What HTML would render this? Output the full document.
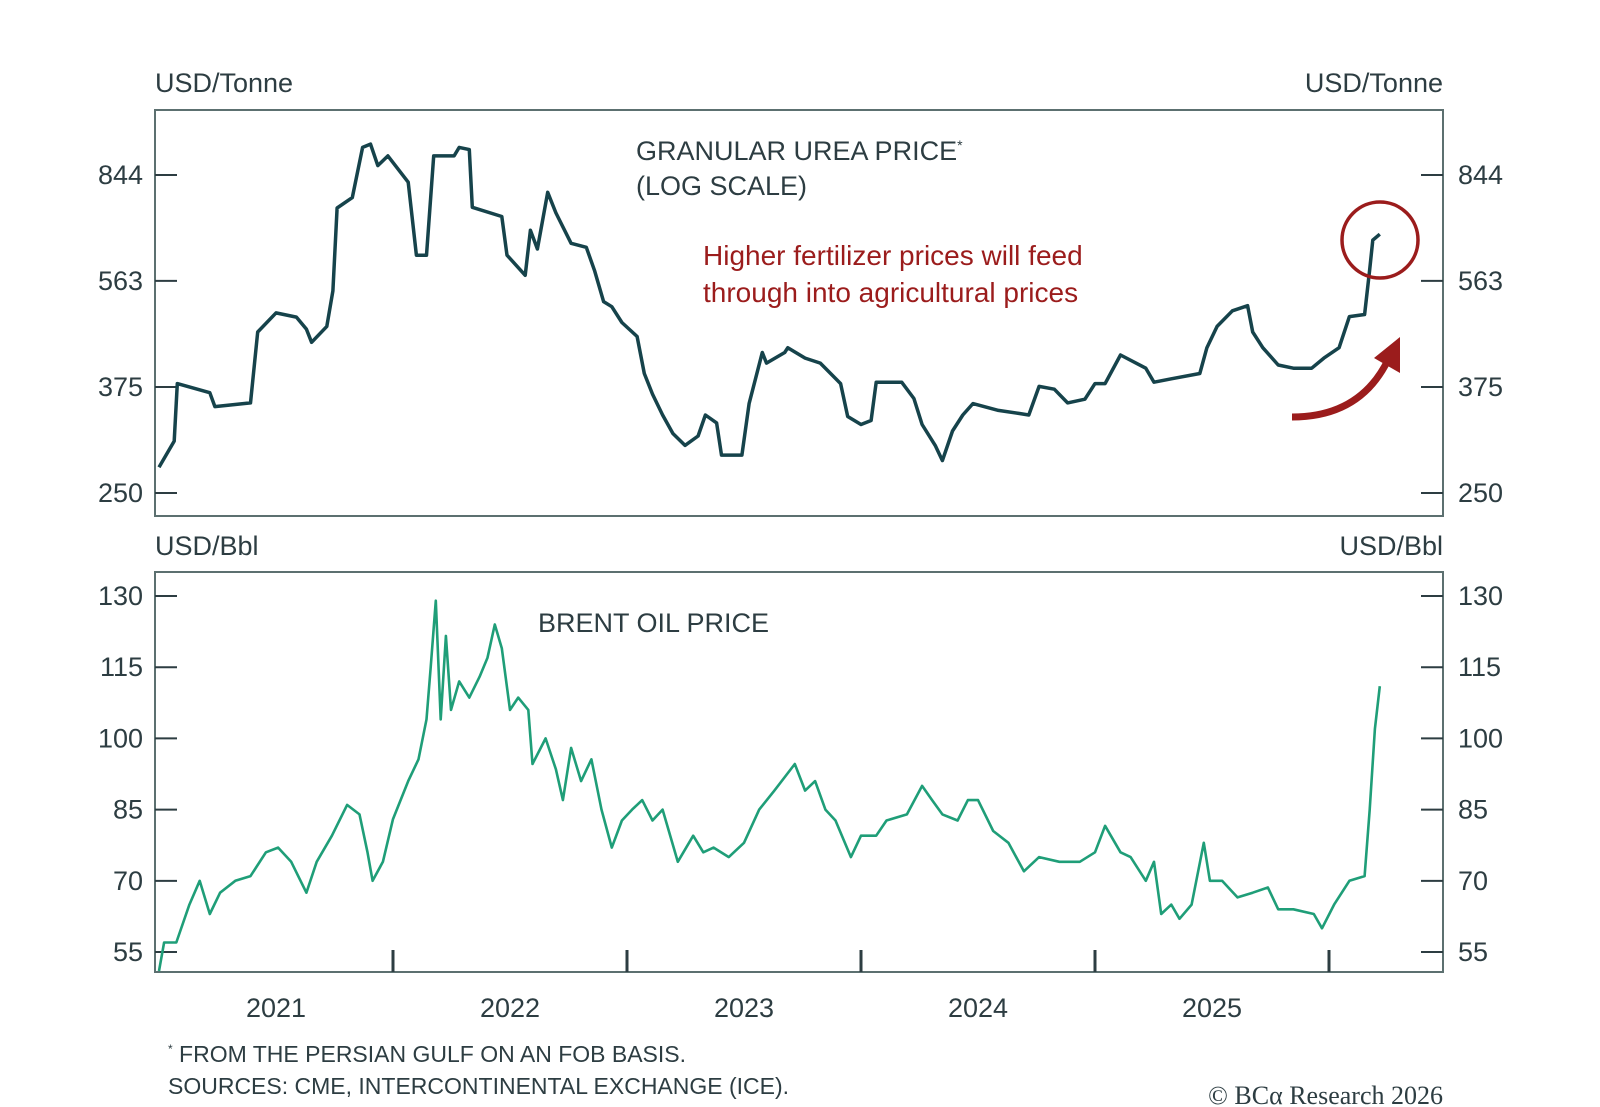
<!DOCTYPE html>
<html><head><meta charset="utf-8"><style>
html,body{margin:0;padding:0;background:#fff;}
svg{display:block;font-family:"Liberation Sans",sans-serif;}
</style></head><body>
<svg id="chart" width="1600" height="1107" viewBox="0 0 1600 1107">
<g id="static" fill="#2d3d42" font-size="27">
<text x="155" y="92">USD/Tonne</text>
<text x="1443" y="92" text-anchor="end">USD/Tonne</text>
<text x="636" y="160">GRANULAR UREA PRICE<tspan font-size="14" dy="-10">*</tspan></text>
<text x="636" y="195">(LOG SCALE)</text>
<text x="703" y="265" fill="#9b1c1c" font-size="28">Higher fertilizer prices will feed</text>
<text x="703" y="302" fill="#9b1c1c" font-size="28">through into agricultural prices</text>
<text x="155" y="555">USD/Bbl</text>
<text x="1443" y="555" text-anchor="end">USD/Bbl</text>
<text x="538" y="632">BRENT OIL PRICE</text>
<text x="168" y="1062" font-size="23"><tspan font-size="12" dy="-9">*</tspan><tspan dy="9"> FROM THE PERSIAN GULF ON AN FOB BASIS.</tspan></text>
<text x="168" y="1094" font-size="23">SOURCES: CME, INTERCONTINENTAL EXCHANGE (ICE).</text>
<text x="1443" y="1104" text-anchor="end" font-size="26" font-family="Liberation Serif,serif">© BCα Research 2026</text>
</g>
<rect x="155" y="110" width="1288" height="406" fill="none" stroke="#5c7070" stroke-width="2"/>
<rect x="155" y="572" width="1288" height="400" fill="none" stroke="#5c7070" stroke-width="2"/>
<g id="urea-axes"></g><g id="oil-axes"></g><g id="x-axis"></g>
<path id="urea-line" fill="none" stroke="#16434b" stroke-width="3.5" stroke-linejoin="round"/>
<path id="oil-line" fill="none" stroke="#1f9e78" stroke-width="2.6" stroke-linejoin="round"/>
<circle cx="1380" cy="240" r="38" fill="none" stroke="#9b1c1c" stroke-width="3.5"/>
<path d="M1292,417 Q1360,417 1388,360" fill="none" stroke="#9b1c1c" stroke-width="7"/>
<polygon points="1400,337 1400,373 1374,358" fill="#9b1c1c"/>
</svg>
<script>
const ureaT=[0,.065,.078,.217,.239,.391,.422,.5,.587,.63,.652,.717,.743,.761,.826,.87,.904,.935,.978,1.065,1.1,1.143,1.174,1.261,1.283,1.326,1.339,1.465,1.487,1.565,1.587,1.617,1.661,1.696,1.761,1.826,1.861,1.9,1.935,1.978,2.043,2.074,2.109,2.152,2.196,2.248,2.304,2.335,2.383,2.404,2.491,2.522,2.578,2.596,2.674,2.687,2.761,2.826,2.913,2.943,3.0,3.043,3.065,3.174,3.226,3.261,3.317,3.348,3.391,3.435,3.478,3.587,3.674,3.717,3.761,3.826,3.883,3.957,4.0,4.043,4.109,4.217,4.252,4.326,4.448,4.478,4.522,4.587,4.652,4.674,4.717,4.783,4.848,4.926,4.978,5.043,5.087,5.152,5.174,5.187,5.217];
const ureaV=[276,305,380,367,348,353,463,498,490,468,445,473,542,744,774,938,950,875,908,821,621,621,908,908,938,930,746,720,621,575,683,636,790,730,650,640,586,520,510,480,455,395,365,337,314,300,311,337,327,289,289,352,428,411,428,436,419,411,380,335,325,330,382,382,359,325,300,283,317,337,352,343,339,337,376,372,353,358,380,380,424,403,382,387,395,436,473,502,512,463,436,408,403,403,419,436,491,495,588,658,673];
const oilT=[0,.022,.074,.13,.174,.217,.261,.326,.391,.457,.509,.565,.63,.674,.739,.804,.857,.891,.913,.957,1.0,1.065,1.109,1.143,1.161,1.183,1.204,1.226,1.248,1.283,1.326,1.37,1.404,1.435,1.465,1.5,1.535,1.578,1.596,1.652,1.696,1.726,1.761,1.804,1.848,1.891,1.935,1.978,2.022,2.065,2.109,2.152,2.217,2.283,2.326,2.37,2.435,2.5,2.565,2.63,2.717,2.761,2.804,2.848,2.891,2.957,3.0,3.065,3.109,3.196,3.261,3.304,3.348,3.413,3.457,3.5,3.565,3.63,3.696,3.761,3.848,3.935,4.0,4.043,4.109,4.152,4.217,4.252,4.283,4.326,4.361,4.413,4.465,4.491,4.543,4.609,4.674,4.739,4.783,4.848,4.935,4.97,5.022,5.087,5.152,5.174,5.196,5.217];
const oilV=[51,57,57,65,70,63,67.5,70,71,76,77,74,67.5,74,79.5,86,84,76,70,74,83,91,95.6,104,115,129,104,121.6,106,112,108.6,113,117,124,119,106,108.6,106,94.6,100,93.5,87,98,91,95.6,85,77,82.7,85,87,82.7,85,74,79.5,76,77,75,78,85,89,94.6,89,91,85,82.7,75,79.5,79.5,82.7,84,90,87,84,82.7,87,87,80.5,78,72,75,74,74,76,81.6,76,75,70,74,63,65,62,65,78,70,70,66.5,67.5,68.6,64,64,63,60,65,70,71,85,102,111];
const ureaTicks=[844,563,375,250];
const oilTicks=[130,115,100,85,70,55];
const years=["2021","2022","2023","2024","2025"];

const NS="http://www.w3.org/2000/svg";
const xOf=t=>159+t*234;
const yU=v=>175+Math.log(844/v)*261.4;
const yO=v=>596+(130-v)*4.747;
function mk(tag,attrs,parent){const e=document.createElementNS(NS,tag);for(const k in attrs)e.setAttribute(k,attrs[k]);parent.appendChild(e);return e;}

function axis(gid,ticks,yf,prefix){
  const g=document.getElementById(gid);
  ticks.forEach(v=>{
    const y=yf(v);
    const l1=mk('line',{x1:155,x2:177,y1:y,y2:y,stroke:'#2d3d42','stroke-width':2},g);
    
    
    const l2=mk('line',{x1:1421,x2:1443,y1:y,y2:y,stroke:'#2d3d42','stroke-width':2},g);
    
    
    const t1=mk('text',{x:143,y:y+9,'text-anchor':'end','font-size':27,fill:'#2d3d42'},g);
    t1.textContent=v;
    
    
    const t2=mk('text',{x:1458,y:y+9,'font-size':27,fill:'#2d3d42'},g);
    t2.textContent=v;
    
    
  });
}
axis('urea-axes',ureaTicks,yU,'urea');
axis('oil-axes',oilTicks,yO,'oil');

const xg=document.getElementById('x-axis');
years.forEach((y,i)=>{
  const tx=xOf(i+1);
  const l=mk('line',{x1:tx,x2:tx,y1:950,y2:972,stroke:'#2d3d42','stroke-width':3},xg);
  
  
  const t=mk('text',{x:xOf(i+0.5),y:1017,'text-anchor':'middle','font-size':27,fill:'#2d3d42'},xg);
  t.textContent=y;
  
  
});

function path(T,V,yf){const n=Math.min(T.length,V.length);let d='';for(let i=0;i<n;i++)d+=(i?'L':'M')+xOf(T[i]).toFixed(1)+','+yf(V[i]).toFixed(1)+' ';return d;}
document.getElementById('urea-line').setAttribute('d',path(ureaT,ureaV,yU));
document.getElementById('oil-line').setAttribute('d',path(oilT,oilV,yO));
</script>
</body></html>
